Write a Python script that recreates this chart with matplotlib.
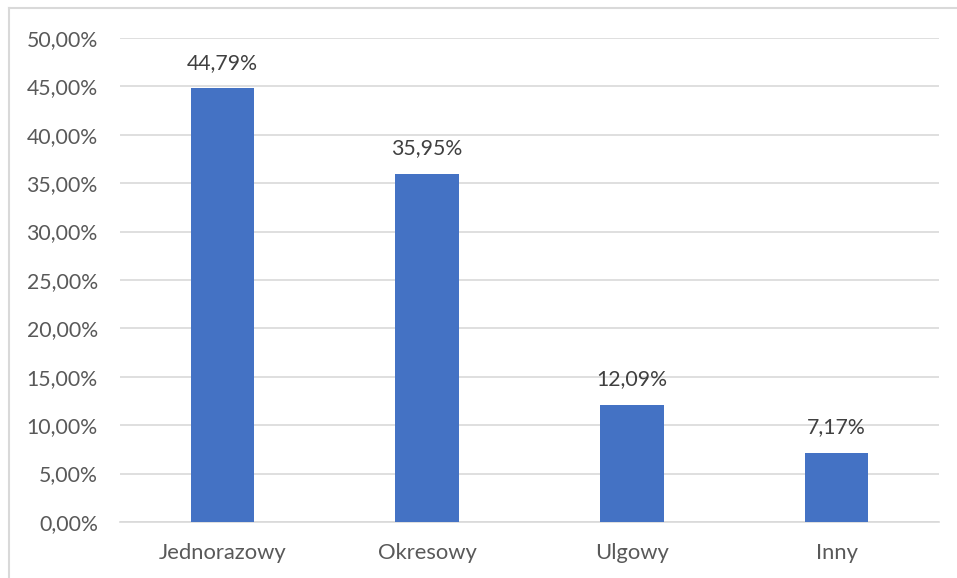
import matplotlib.pyplot as plt
from matplotlib.lines import Line2D
from matplotlib.ticker import FuncFormatter

categories = ['Jednorazowy', 'Okresowy', 'Ulgowy', 'Inny']
values = [44.79, 35.95, 12.09, 7.17]

plt.rcParams['font.family'] = ['Lato', 'DejaVu Sans']
text_color = '#595959'
grid_color = '#d9d9d9'

fig = plt.figure(figsize=(9.57, 5.78), dpi=100)
ax = fig.add_axes([0.1254, 0.0969, 0.8558, 0.8374])

x = range(len(categories))
ax.bar(x, values, width=0.31, color='#4472C4', zorder=3)
for xi, v in zip(x, values):
    ax.text(xi, v + 1.6, f'{v:.2f}%'.replace('.', ','), ha='center', va='bottom',
            fontsize=15.3, color='#404040')

ax.set_xlim(-0.5, len(categories) - 0.5)
ax.set_ylim(0, 50)
ax.set_yticks(range(0, 51, 5))
ax.yaxis.set_major_formatter(FuncFormatter(lambda v, p: f'{v:.2f}%'.replace('.', ',')))
ax.set_xticks(list(x))
ax.set_xticklabels(categories)
ax.grid(axis='y', color=grid_color, linewidth=1.2, zorder=0)
for s in ['top', 'right', 'left']:
    ax.spines[s].set_visible(False)
ax.spines['bottom'].set_color(grid_color)
ax.spines['bottom'].set_linewidth(1.2)
ax.tick_params(axis='both', length=0, labelsize=15.3, labelcolor=text_color)
ax.tick_params(axis='y', pad=16)
ax.tick_params(axis='x', pad=15, labelsize=15.8)

# outer chart border (left and top edges visible)
fig.add_artist(Line2D([9 / 957, 9 / 957], [0, 1 - 8 / 578], color=grid_color, linewidth=1.5))
fig.add_artist(Line2D([9 / 957, 1], [1 - 8 / 578, 1 - 8 / 578], color=grid_color, linewidth=1.5))

fig.savefig('out.png', dpi=100)
